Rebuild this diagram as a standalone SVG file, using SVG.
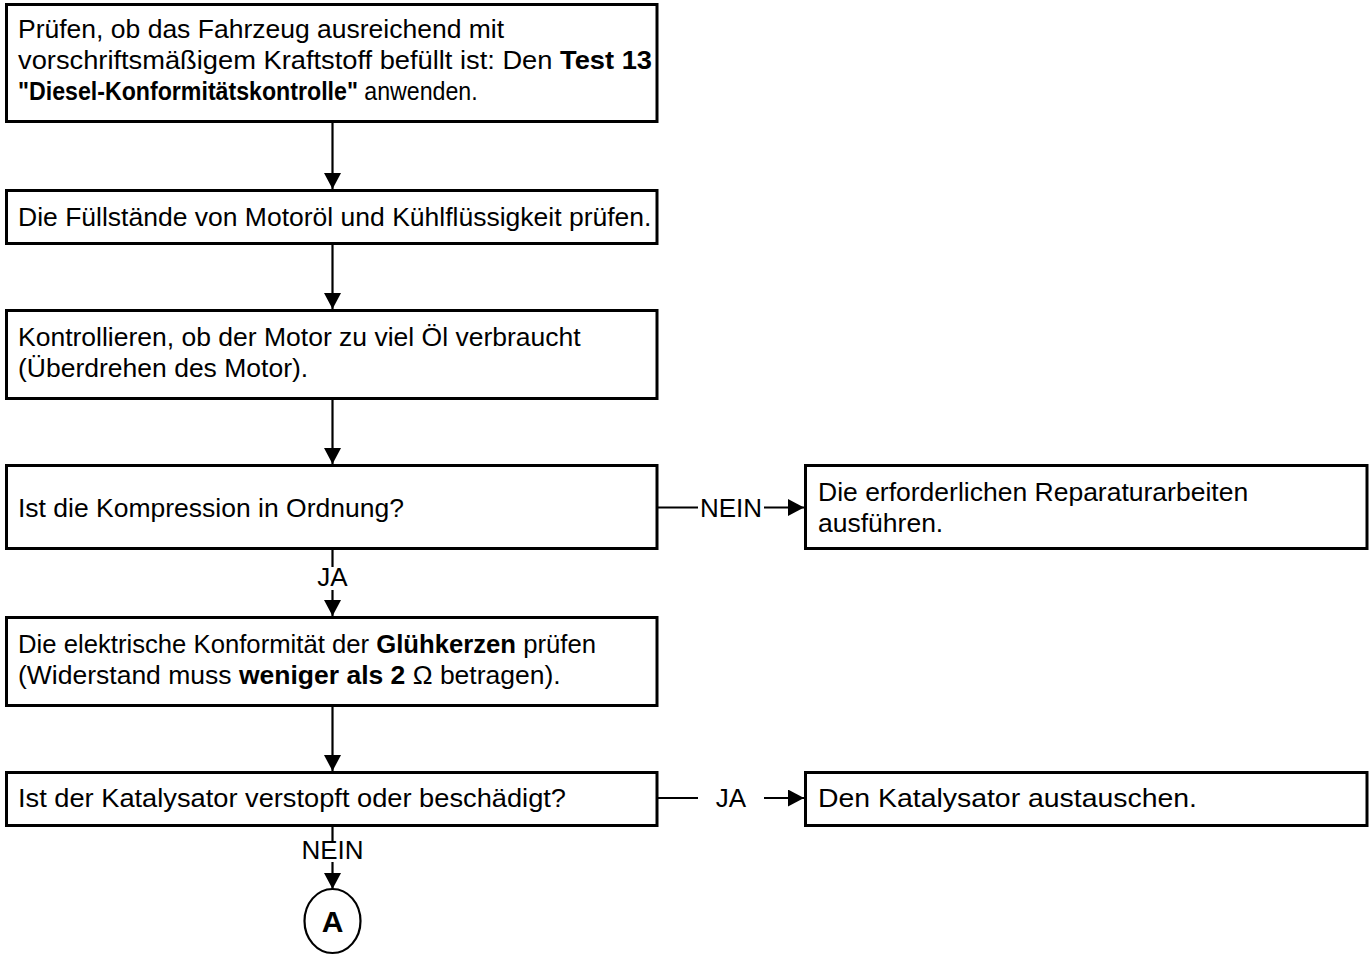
<svg xmlns="http://www.w3.org/2000/svg" width="1371" height="958" viewBox="0 0 1371 958">
  <style>
    .box { fill: #ffffff; stroke: #000000; stroke-width: 3; }
    .t { font-family: "Liberation Sans", Arial, sans-serif; font-size: 26.5px; fill: #000000; }
    .b { font-weight: bold; }
    .lbl { font-family: "Liberation Sans", Arial, sans-serif; font-size: 26px; fill: #000000; text-anchor: middle; }
    .edge { stroke: #000000; stroke-width: 2.2; fill: none; }
    .arr { marker-end: url(#ah); }
  </style>
  <defs>
    <marker id="ah" markerUnits="userSpaceOnUse" markerWidth="17" markerHeight="17" refX="16" refY="8.5" orient="auto" viewBox="0 0 17 17">
      <path d="M0,0 L16,8.5 L0,17 z" fill="#000000"/>
    </marker>
  </defs>
  <rect width="1371" height="958" fill="#ffffff"/>

  <!-- connectors -->
  <g id="connectors">
    <line class="edge arr" x1="332.5" y1="123" x2="332.5" y2="189"/>
    <line class="edge arr" x1="332.5" y1="245" x2="332.5" y2="309"/>
    <line class="edge arr" x1="332.5" y1="400" x2="332.5" y2="464"/>
    <!-- compression OK? yes -->
    <line class="edge" x1="332.5" y1="550" x2="332.5" y2="567"/>
    <text class="lbl" x="332.5" y="586">JA</text>
    <line class="edge arr" x1="332.5" y1="590" x2="332.5" y2="616"/>
    <!-- compression OK? no -->
    <line class="edge" x1="658" y1="507.5" x2="698" y2="507.5"/>
    <text class="lbl" x="731" y="517">NEIN</text>
    <line class="edge arr" x1="764" y1="507.5" x2="804" y2="507.5"/>
    <line class="edge arr" x1="332.5" y1="707" x2="332.5" y2="771"/>
    <!-- catalyst damaged? yes -->
    <line class="edge" x1="658" y1="798" x2="698" y2="798"/>
    <text class="lbl" x="731" y="807">JA</text>
    <line class="edge arr" x1="764" y1="798" x2="804" y2="798"/>
    <!-- catalyst damaged? no -->
    <line class="edge" x1="332.5" y1="827" x2="332.5" y2="841"/>
    <text class="lbl" x="332.5" y="859">NEIN</text>
    <line class="edge arr" x1="332.5" y1="862" x2="332.5" y2="889"/>
  </g>

  <g id="n-fuel">
    <rect class="box" x="6.5" y="4.5" width="650.5" height="117"/>
    <text class="t" x="18" y="38">Prüfen, ob das Fahrzeug ausreichend mit</text>
    <text class="t" x="18" y="69" textLength="634" lengthAdjust="spacingAndGlyphs">vorschriftsmäßigem Kraftstoff befüllt ist: Den <tspan class="b">Test 13</tspan></text>
    <text class="t" transform="translate(18,100) scale(0.875,1)"><tspan class="b">"Diesel-Konformitätskontrolle"</tspan> anwenden.</text>
  </g>

  <g id="n-levels">
    <rect class="box" x="6.5" y="190.5" width="650.5" height="53"/>
    <text class="t" x="18" y="226">Die Füllstände von Motoröl und Kühlflüssigkeit prüfen.</text>
  </g>

  <g id="n-oil">
    <rect class="box" x="6.5" y="310.5" width="650.5" height="88"/>
    <text class="t" x="18" y="346">Kontrollieren, ob der Motor zu viel Öl verbraucht</text>
    <text class="t" x="18" y="377">(Überdrehen des Motor).</text>
  </g>

  <g id="n-compression">
    <rect class="box" x="6.5" y="465.5" width="650.5" height="83"/>
    <text class="t" x="18" y="517">Ist die Kompression in Ordnung?</text>
  </g>

  <g id="n-repair">
    <rect class="box" x="805.5" y="465.5" width="561.5" height="83"/>
    <text class="t" x="818" y="501">Die erforderlichen Reparaturarbeiten</text>
    <text class="t" x="818" y="532">ausführen.</text>
  </g>

  <g id="n-glow">
    <rect class="box" x="6.5" y="617.5" width="650.5" height="88"/>
    <text class="t" x="18" y="653" textLength="578" lengthAdjust="spacingAndGlyphs">Die elektrische Konformität der <tspan class="b">Glühkerzen</tspan> prüfen</text>
    <text class="t" x="18" y="684">(Widerstand muss <tspan class="b">weniger als 2</tspan> Ω betragen).</text>
  </g>

  <g id="n-catalyst">
    <rect class="box" x="6.5" y="772.5" width="650.5" height="53"/>
    <text class="t" x="18" y="807" textLength="548" lengthAdjust="spacingAndGlyphs">Ist der Katalysator verstopft oder beschädigt?</text>
  </g>

  <g id="n-replace">
    <rect class="box" x="805.5" y="772.5" width="561.5" height="53"/>
    <text class="t" x="818" y="807" textLength="379" lengthAdjust="spacingAndGlyphs">Den Katalysator austauschen.</text>
  </g>

  <g id="n-a">
    <ellipse cx="332.5" cy="921" rx="28" ry="32" fill="#ffffff" stroke="#000000" stroke-width="2.2"/>
    <text class="lbl b" x="332.5" y="932" style="font-size:30px">A</text>
  </g>
</svg>
